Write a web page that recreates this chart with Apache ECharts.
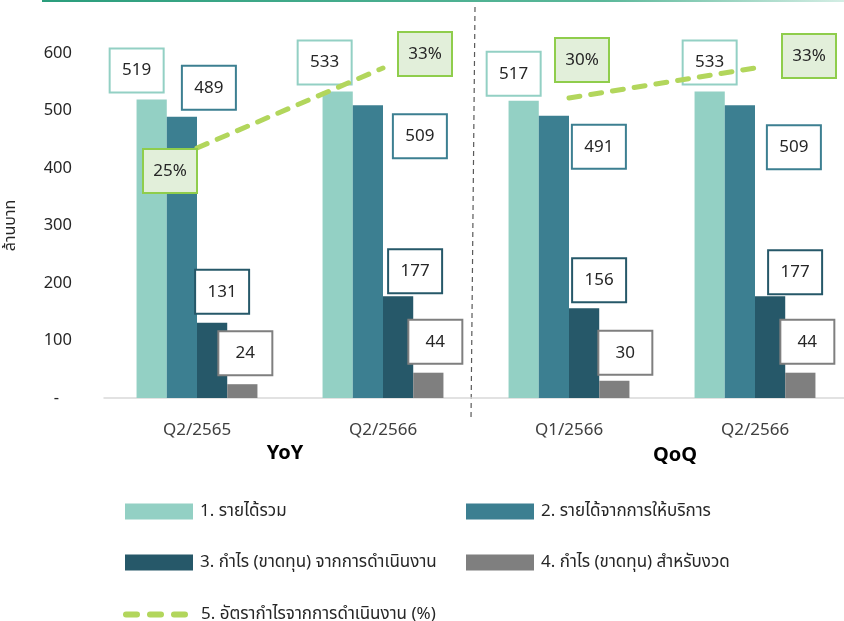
<!DOCTYPE html>
<html>
<head>
<meta charset="utf-8">
<script src="https://cdn.jsdelivr.net/npm/echarts@6/dist/echarts.min.js"></script>
<style>
  html, body { margin: 0; padding: 0; background: #fff; }
  #chart { width: 844px; height: 621px; }
</style>
</head>
<body>
<div id="chart"></div>
<script>
// ข้อมูล (ล้านบาท)
const categories = ['Q2/2565', 'Q2/2566', 'Q1/2566', 'Q2/2566'];
const totalRevenue = [519, 533, 517, 533];
const serviceRevenue = [489, 509, 491, 509];
const operatingProfit = [131, 177, 156, 177];
const netProfit = [24, 44, 30, 44];
const operatingMargin = [25, 33, 30, 33]; // %
const groupNames = ['YoY', 'QoQ'];

const seriesNames = [
  '1. รายได้รวม',
  '2. รายได้จากการให้บริการ',
  '3. กำไร (ขาดทุน) จากการดำเนินงาน',
  '4. กำไร (ขาดทุน) สำหรับงวด',
  '5. อัตรากำไรจากการดำเนินงาน (%)'
];
const barColors = ['#93d0c4', '#3c7f91', '#265869', '#7f7f7f'];
const lineColor = '#b2d65c';

// ตำแหน่งกล่องป้ายกำกับ (จุดกึ่งกลางกล่อง เทียบกับยอดแท่ง)
const barLabelOffsets = [
  [[-15, -29], [-13, -29], [-10, -27], [0, -29]],
  [[27, -29], [52, 31], [45, 31], [54, 42]],
  [[10, -31], [17, -25], [15, -28], [25, -24]],
  [[3, -31], [7, -31], [11, -28], [7, -31]]
];
const lineLabelOffsets = [[-27, 23], [42, -14], [13, -38], [54, -12]];

const FONT = '"Noto Sans", "Noto Sans Thai", sans-serif';

function boxLabel(color) {
  return {
    show: true,
    position: ['50%', 0],
    align: 'center',
    verticalAlign: 'middle',
    fontFamily: FONT,
    fontSize: 17,
    color: '#262626',
    backgroundColor: '#fff',
    borderColor: color,
    borderWidth: 2,
    width: 32,
    height: 20,
    lineHeight: 20,
    padding: [11, 10]
  };
}

const barSeries = [totalRevenue, serviceRevenue, operatingProfit, netProfit].map((vals, s) => ({
  name: seriesNames[s],
  type: 'bar',
  barGap: 0,
  barCategoryGap: '35%',
  itemStyle: { color: barColors[s] },
  label: boxLabel(barColors[s]),
  data: vals.map((v, i) => ({ value: v, label: { offset: barLabelOffsets[s][i] } })),
  z: 2
}));

function marginSeries(from, to) {
  return {
    name: seriesNames[4],
    type: 'line',
    yAxisIndex: 1,
    symbol: 'circle',
    symbolSize: 1,
    color: lineColor,
    lineStyle: { color: lineColor, width: 5, type: [11, 11], cap: 'round' },
    label: {
      show: true,
      position: 'inside',
      fontFamily: FONT,
      fontSize: 17,
      color: '#262626',
      backgroundColor: '#e2efda',
      borderColor: '#8fcd4c',
      borderWidth: 2,
      width: 32,
      height: 20,
      lineHeight: 20,
      padding: [11, 10],
      align: 'center',
      verticalAlign: 'middle',
      formatter: p => p.value + '%'
    },
    data: operatingMargin.map((v, i) => (i >= from && i <= to)
      ? { value: v, label: { offset: lineLabelOffsets[i] } }
      : '-'),
    z: 5
  };
}

const legendBase = {
  itemWidth: 68,
  itemHeight: 16,
  padding: 0,
  icon: 'rect',
  textStyle: { fontFamily: FONT, fontSize: 17, color: '#262626', padding: [0, 0, 0, 2] }
};
const dashIcon = 'path://M3,0H14A3,3 0 0 1 14,6H3A3,3 0 0 1 3,0Z M27,0H38A3,3 0 0 1 38,6H27A3,3 0 0 1 27,0Z M51,0H62A3,3 0 0 1 62,6H51A3,3 0 0 1 51,0Z';

const myChart = echarts.init(document.getElementById('chart'));
const option = {
  animation: false,
  grid: { left: 104, right: -4, top: 53, bottom: 223, containLabel: false, outerBoundsMode: 'none' },
  xAxis: {
    type: 'category',
    data: categories,
    axisLine: { lineStyle: { color: '#d9d9d9', width: 1.5 } },
    axisTick: { show: false },
    axisLabel: { fontFamily: FONT, fontSize: 17, color: '#404040', margin: 24 }
  },
  yAxis: [
    {
      type: 'value',
      min: 0,
      max: 600,
      interval: 100,
      name: 'ล้านบาท',
      nameLocation: 'middle',
      nameGap: 86,
      nameTextStyle: { fontFamily: FONT, fontSize: 16, color: '#262626' },
      splitLine: { show: false },
      axisLine: { show: false },
      axisTick: { show: false },
      axisLabel: {
        fontFamily: FONT, fontSize: 16.5, color: '#262626', margin: 32,
        formatter: v => v === 0 ? '-   ' : String(v)
      }
    },
    {
      type: 'value',
      min: 0,
      max: 34.5,
      show: false,
      splitLine: { show: false }
    }
  ],
  legend: [
    Object.assign({}, legendBase, { data: [seriesNames[0]], left: 125, top: 503 }),
    Object.assign({}, legendBase, { data: [seriesNames[1]], left: 466, top: 503 }),
    Object.assign({}, legendBase, { data: [seriesNames[2]], left: 125, top: 554 }),
    Object.assign({}, legendBase, { data: [seriesNames[3]], left: 466, top: 554 }),
    Object.assign({}, legendBase, {
      data: [{ name: seriesNames[4], icon: dashIcon }],
      left: 123, top: 606, itemWidth: 65, itemHeight: 6,
      textStyle: Object.assign({}, legendBase.textStyle, { padding: [0, 0, 0, 8] })
    })
  ],
  graphic: [
    {
      type: 'line',
      shape: { x1: 42, y1: 1, x2: 844, y2: 1 },
      style: {
        lineWidth: 2,
        stroke: new echarts.graphic.LinearGradient(0, 0, 1, 0, [
          { offset: 0, color: '#2a9d7c' },
          { offset: 0.7, color: '#5bb89a' },
          { offset: 1, color: '#d5eee5' }
        ])
      }
    },
    {
      type: 'line',
      shape: { x1: 475, y1: 7, x2: 471, y2: 420 },
      style: { stroke: '#595959', lineWidth: 1.2, lineDash: [5, 4] }
    },
    {
      type: 'text', x: 285, y: 453,
      style: { text: groupNames[0], align: 'center', verticalAlign: 'middle', fontFamily: FONT, fontSize: 20, fontWeight: 'bold', fill: '#000' }
    },
    {
      type: 'text', x: 675, y: 455,
      style: { text: groupNames[1], align: 'center', verticalAlign: 'middle', fontFamily: FONT, fontSize: 20, fontWeight: 'bold', fill: '#000' }
    }
  ],
  series: barSeries.concat([marginSeries(0, 1), marginSeries(2, 3)])
};
myChart.setOption(option);
window.addEventListener('resize', () => {
  myChart.resize();
});
</script>
</body>
</html>
